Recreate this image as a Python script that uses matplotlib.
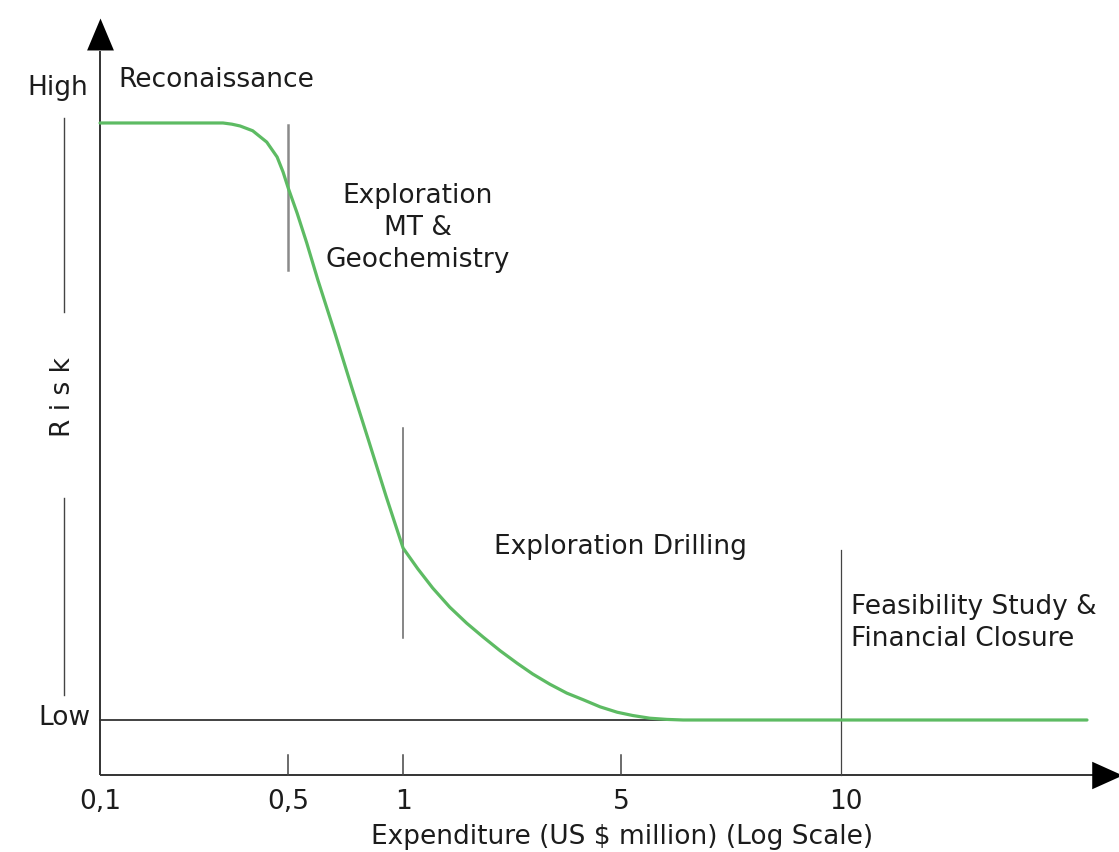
import matplotlib
matplotlib.use("Agg")
import matplotlib.pyplot as plt

# ---- data (x: position along expenditure axis, 0 = 0,1 ... 1 = 10; y: risk 0 = Low, 1 = High)
tick_labels = ["0,1", "0,5", "1", "5", "10"]
tick_pos = [0.0, 0.2537, 0.4089, 0.7031, 1.0]

curve_x = [0.000, 0.166, 0.178, 0.189, 0.206, 0.225, 0.239, 0.247, 0.254, 0.266,
           0.279, 0.294, 0.317, 0.340, 0.363, 0.386, 0.409, 0.429, 0.449, 0.472,
           0.495, 0.517, 0.540, 0.563, 0.584, 0.607, 0.630, 0.652, 0.675, 0.698,
           0.719, 0.742, 0.765, 0.787, 0.810, 0.854, 1.332]
curve_risk = [1.000, 1.000, 0.998, 0.995, 0.987, 0.968, 0.943, 0.918, 0.891, 0.849,
              0.799, 0.737, 0.648, 0.556, 0.466, 0.375, 0.288, 0.253, 0.221, 0.189,
              0.162, 0.139, 0.116, 0.095, 0.077, 0.060, 0.045, 0.034, 0.022, 0.013,
              0.0075, 0.003, 0.001, 0.000, 0.000, 0.000, 0.000]

stage_labels = ["Reconaissance", "Exploration\nMT &\nGeochemistry",
                "Exploration Drilling", "Feasibility Study &\nFinancial Closure"]

FONT = "DejaVu Sans"
FS = 19
TXT = "#1c1c1c"
plt.rcParams["font.family"] = [FONT]

fig = plt.figure(figsize=(11.19, 8.52), dpi=100)
ax = fig.add_axes([0, 0, 1, 1])
ax.set_xlim(-0.135, 1.3752)
ax.set_ylim(-0.2211, 1.206)
ax.axis("off")

axis_y = -0.0921

# axes lines with arrow heads
ax.plot([0, 0], [axis_y, 1.12], color="#333333", lw=1.4, solid_capstyle="butt")
ax.plot([0, 1.345], [axis_y, axis_y], color="#333333", lw=1.4, solid_capstyle="butt")
up_tri = [(0, 0.5), (-0.42, -0.5), (0.42, -0.5)]
right_tri = [(0.5, 0), (-0.5, 0.45), (-0.5, -0.45)]
ax.plot([0], [1.149], marker=up_tri, markersize=23, color="black", markeredgewidth=0)
ax.plot([1.359], [axis_y], marker=right_tri, markersize=22, color="black", markeredgewidth=0,
        clip_on=False)

# low line
ax.plot([0, 1.332], [0, 0], color="#333333", lw=1.3)

# x tick marks
for p in tick_pos[1:4]:
    ax.plot([p, p], [axis_y, -0.0586], color="#444444", lw=1.1)
for p, lab in zip(tick_pos, tick_labels):
    ax.text(p + (0.006 if lab == "10" else 0), -0.138, lab, ha="center", va="center",
            fontsize=FS, color=TXT)
ax.text(0.7045, -0.196, "Expenditure (US $ million) (Log Scale)", ha="center", va="center",
        fontsize=FS, color=TXT)

# stage boundary lines
ax.plot([tick_pos[1]] * 2, [0.997, 0.754], color="#8a8a8a", lw=1.8)
ax.plot([tick_pos[2]] * 2, [0.489, 0.137], color="#666666", lw=1.1)
ax.plot([tick_pos[4]] * 2, [0.285, axis_y], color="#444444", lw=0.9)

# risk curve
ax.plot(curve_x, curve_risk, color="#5dbb63", lw=2.3, solid_capstyle="round",
        solid_joinstyle="round", zorder=5)

# left y annotation
ax.plot([-0.0486] * 2, [1.008, 0.683], color="#444444", lw=1.0)
ax.plot([-0.0486] * 2, [0.372, 0.042], color="#444444", lw=1.0)
ax.text(-0.016, 1.059, "High", ha="right", va="center", fontsize=FS, color=TXT)
ax.text(-0.0135, 0.003, "Low", ha="right", va="center", fontsize=FS, color=TXT)
ax.text(-0.050, 0.541, "R i s k", ha="center", va="center", rotation=90, fontsize=FS, color=TXT)

# stage labels
ax.text(0.0243, 1.072, stage_labels[0], ha="left", va="center", fontsize=FS, color=TXT)
ax.text(0.429, 0.824, stage_labels[1], ha="center", va="center", multialignment="center",
        fontsize=FS, color=TXT, linespacing=1.32)
ax.text(0.702, 0.290, stage_labels[2], ha="center", va="center", fontsize=FS, color=TXT)
ax.text(1.0135, 0.162, stage_labels[3], ha="left", va="center", multialignment="left",
        fontsize=FS, color=TXT, linespacing=1.3)

fig.savefig("out.png", dpi=100)
